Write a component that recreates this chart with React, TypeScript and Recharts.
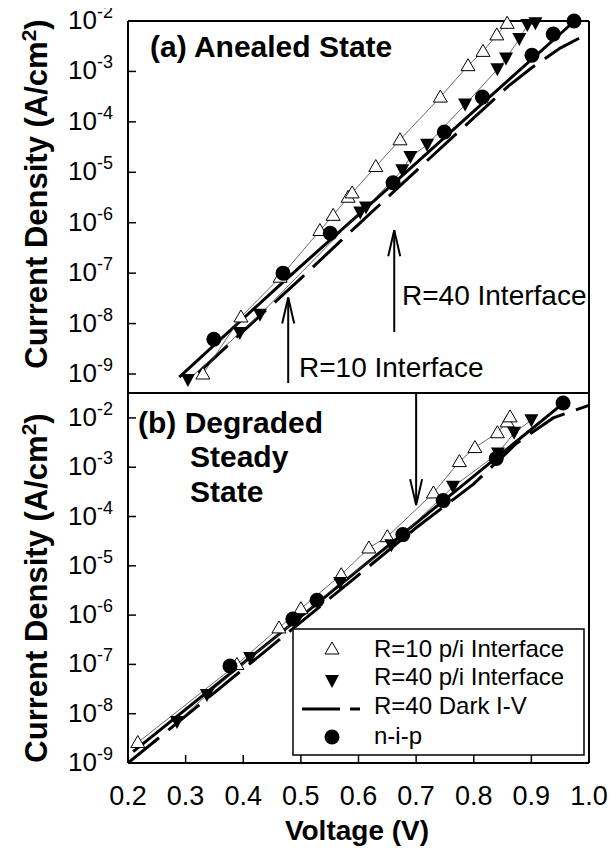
import React from 'react';
import { LineChart, Line, XAxis, YAxis, ReferenceLine } from 'recharts';

const FONT = '"Liberation Sans", Arial, Helvetica, sans-serif';

// axes
const voltTicks = [0.2, 0.3, 0.4, 0.5, 0.6, 0.7, 0.8, 0.9, 1.0];
const decadeTicks = [1e-9, 1e-8, 1e-7, 1e-6, 1e-5, 1e-4, 1e-3, 1e-2];

// (a) annealed state
const aR10Volt = [0.33, 0.396, 0.464, 0.533, 0.556, 0.582, 0.589, 0.63, 0.672, 0.742, 0.79, 0.816, 0.84, 0.858];
const aR10J = [1.0e-9, 1.35e-8, 8.3e-8, 7e-7, 1.4e-6, 3.2e-6, 3.9e-6, 1.3e-5, 4.4e-5, 3.1e-4, 1.3e-3, 2.5e-3, 5.3e-3, 9e-3];
const aR40Volt = [0.304, 0.394, 0.429, 0.603, 0.613, 0.676, 0.69, 0.719, 0.785, 0.841, 0.856, 0.879, 0.893, 0.907];
const aR40J = [7.6e-10, 6.5e-9, 1.5e-8, 1.6e-6, 2e-6, 1.1e-5, 2e-5, 3.5e-5, 2.2e-4, 1.1e-3, 1.8e-3, 4.4e-3, 8.3e-3, 9e-3];
const aNipVolt = [0.349, 0.469, 0.551, 0.66, 0.749, 0.815, 0.901, 0.938, 0.974];
const aNipJ = [4.9e-9, 1e-7, 6.2e-7, 6.2e-6, 6.3e-5, 3.1e-4, 2.1e-3, 5.5e-3, 1e-2];
const aFitVolt = [0.289, 0.47, 0.66, 0.82, 0.975];
const aFitJ = [8.7e-10, 6.8e-8, 5.9e-6, 2.6e-4, 1e-2];
const aDarkVolt = [0.322, 0.4, 0.5, 0.6, 0.7, 0.8, 0.86, 0.9, 0.95, 1.0];
const aDarkJ = [1.05e-9, 7.1e-9, 7.9e-8, 9.3e-7, 1.07e-5, 1.2e-4, 5.1e-4, 1.17e-3, 2.9e-3, 5.75e-3];

// (b) degraded steady state
const bR10Volt = [0.217, 0.389, 0.462, 0.5, 0.57, 0.618, 0.65, 0.73, 0.775, 0.802, 0.841, 0.858, 0.863];
const bR10J = [2.6e-9, 1.0e-7, 5.5e-7, 1.35e-6, 6.6e-6, 2.3e-5, 3.9e-5, 3e-4, 1.3e-3, 2.5e-3, 5e-3, 8.3e-3, 1.05e-2];
const bR40Volt = [0.285, 0.337, 0.412, 0.493, 0.568, 0.657, 0.764, 0.842, 0.87, 0.9];
const bR40J = [6.8e-9, 2.4e-8, 1.35e-7, 8e-7, 4.5e-6, 2.6e-5, 4e-4, 1.9e-3, 5e-3, 9e-3];
const bNipVolt = [0.377, 0.486, 0.528, 0.677, 0.747, 0.839, 0.955];
const bNipJ = [9.3e-8, 8.3e-7, 2e-6, 4.3e-5, 2.1e-4, 1.5e-3, 2e-2];
const bFitVolt = [0.209, 0.5, 0.75, 0.962];
const bFitJ = [1.7e-9, 9.3e-7, 2.2e-4, 2.3e-2];
const bDarkVolt = [0.2, 0.5, 0.7, 0.8, 0.875, 0.938, 1.0];
const bDarkJ = [1e-9, 7.2e-7, 5.9e-5, 4.6e-4, 3.1e-3, 1e-2, 1.8e-2];

const legendLabels = ['R=10 p/i Interface', 'R=40 p/i Interface', 'R=40 Dark I-V', 'n-i-p'];

const zip = (v: number[], j: number[]) => v.map((x, i) => ({ v: x, j: j[i] }));

const OpenTri = (p: any) => {
  const { cx, cy } = p;
  if (cx == null || cy == null) return null;
  return <path key={p.key} d={`M${cx},${cy - 7}L${cx + 7},${cy + 5}L${cx - 7},${cy + 5}Z`} fill="#fff" stroke="#000" strokeWidth={1} />;
};
const DownTri = (p: any) => {
  const { cx, cy } = p;
  if (cx == null || cy == null) return null;
  return <path key={p.key} d={`M${cx - 7},${cy - 6}L${cx + 7},${cy - 6}L${cx},${cy + 7}Z`} fill="#000" />;
};
const Dot = (p: any) => {
  const { cx, cy } = p;
  if (cx == null || cy == null) return null;
  return <circle key={p.key} cx={cx} cy={cy} r={7.5} fill="#000" />;
};

const arrow = (up: boolean) => (p: any) => {
  const { x1, y1, x2, y2 } = p;
  const tipY = up ? Math.min(y1, y2) : Math.max(y1, y2);
  const d = up ? 26 : -26;
  return (
    <g>
      <line x1={x1} y1={y1} x2={x2} y2={y2} stroke="#000" strokeWidth={2} />
      <polyline points={`${x2 - 6},${tipY + d} ${x2},${tipY} ${x2 + 6},${tipY + d}`} fill="none" stroke="#000" strokeWidth={2} />
    </g>
  );
};

const YTick = (p: any) => {
  const { x, y, payload } = p;
  const e = Math.round(Math.log10(payload.value));
  return (
    <text x={x} y={y} dy={8} textAnchor="end" fontFamily={FONT} fontSize={26} fill="#000">
      10<tspan dy={-11} fontSize={18}>{e}</tspan>
    </text>
  );
};

const XTick = (p: any) => {
  const { x, y, payload } = p;
  return (
    <text x={x} y={y} dy={19} textAnchor="middle" fontFamily={FONT} fontSize={27} fill="#000">
      {payload.value.toFixed(1)}
    </text>
  );
};

const axisLine = { stroke: '#000', strokeWidth: 2 };
const tickLine = { stroke: '#000', strokeWidth: 1.5 };

const series = (r10: any[], r40: any[], nip: any[], fit: any[], dark: any[]) => [
  <Line key="dark" data={dark} dataKey="j" stroke="#000" strokeWidth={3} strokeDasharray="40 12" dot={false} isAnimationActive={false} />,
  <Line key="fit" data={fit} dataKey="j" stroke="#000" strokeWidth={3} dot={false} isAnimationActive={false} />,
  <Line key="r10" data={r10} dataKey="j" stroke="#444" strokeWidth={0.8} dot={OpenTri} isAnimationActive={false} />,
  <Line key="r40" data={r40} dataKey="j" stroke="#444" strokeWidth={0.8} dot={DownTri} isAnimationActive={false} />,
  <Line key="nip" data={nip} dataKey="j" stroke="none" dot={Dot} isAnimationActive={false} />,
];

const boldText = { fontFamily: FONT, fontWeight: 700, fontSize: 30, fill: '#000' } as const;
const plainText = { fontFamily: FONT, fontSize: 28, fill: '#000' } as const;

export default function App() {
  return (
    <div style={{ position: 'relative', width: 616, height: 848, margin: '-8px 0 0 -8px', background: '#fff' }}>
      <div style={{ position: 'absolute', left: 0, top: 0 }}>
        <LineChart width={616} height={393} margin={{ top: 20, right: 26, bottom: 0, left: 0 }}>
          <XAxis dataKey="v" type="number" domain={[0.2, 1]} ticks={voltTicks} hide />
          <XAxis xAxisId="top" orientation="top" type="number" domain={[0.2, 1]} ticks={voltTicks} height={1}
            tick={false} tickSize={-8} tickLine={tickLine} axisLine={axisLine} />
          <YAxis type="number" scale="log" domain={[4.2e-10, 1e-2]} ticks={decadeTicks} width={128}
            tick={<YTick />} tickSize={-8} tickMargin={23} tickLine={tickLine} axisLine={axisLine} />
          <YAxis yAxisId="right" orientation="right" type="number" domain={[0, 1]} width={1}
            tick={false} tickLine={false} axisLine={axisLine} />
          {series(zip(aR10Volt, aR10J), zip(aR40Volt, aR40J), zip(aNipVolt, aNipJ), zip(aFitVolt, aFitJ), zip(aDarkVolt, aDarkJ))}
          <ReferenceLine segment={[{ x: 0.478, y: 6.6e-10 }, { x: 0.478, y: 3.3e-8 }]} ifOverflow="visible" shape={arrow(true)} />
          <ReferenceLine segment={[{ x: 0.662, y: 6.8e-9 }, { x: 0.662, y: 7.1e-7 }]} ifOverflow="visible" shape={arrow(true)} />
        </LineChart>
      </div>
      <div style={{ position: 'absolute', left: 0, top: 392 }}>
        <LineChart width={616} height={456} margin={{ top: 0, right: 26, bottom: 0, left: 0 }}>
          <XAxis dataKey="v" type="number" domain={[0.2, 1]} ticks={voltTicks} height={85}
            tick={<XTick />} tickSize={-8} tickMargin={31} tickLine={tickLine} axisLine={axisLine} />
          <XAxis xAxisId="top" orientation="top" type="number" domain={[0.2, 1]} ticks={voltTicks} height={1}
            tick={false} tickSize={-8} tickLine={tickLine} axisLine={axisLine} />
          <YAxis type="number" scale="log" domain={[1e-9, 3.2e-2]} ticks={decadeTicks} width={128}
            tick={<YTick />} tickSize={-8} tickMargin={23} tickLine={tickLine} axisLine={axisLine} />
          <YAxis yAxisId="right" orientation="right" type="number" domain={[0, 1]} width={1}
            tick={false} tickLine={false} axisLine={axisLine} />
          {series(zip(bR10Volt, bR10J), zip(bR40Volt, bR40J), zip(bNipVolt, bNipJ), zip(bFitVolt, bFitJ), zip(bDarkVolt, bDarkJ))}
          <ReferenceLine segment={[{ x: 0.7, y: 3.2e-2 }, { x: 0.7, y: 1.7e-4 }]} ifOverflow="visible" shape={arrow(false)} />
        </LineChart>
      </div>
      <svg width={616} height={848} style={{ position: 'absolute', left: 0, top: 0, pointerEvents: 'none' }}>
        <text transform="translate(47,194) rotate(-90)" textAnchor="middle" {...boldText} fontSize={31}>
          Current Density (A/cm<tspan dy={-11} fontSize={21}>2</tspan><tspan dy={11}>)</tspan>
        </text>
        <text transform="translate(47,588) rotate(-90)" textAnchor="middle" {...boldText} fontSize={31}>
          Current Density (A/cm<tspan dy={-11} fontSize={21}>2</tspan><tspan dy={11}>)</tspan>
        </text>
        <text x={150} y={57} {...boldText}>(a) Anealed State</text>
        <text x={402} y={305} {...plainText}>R=40 Interface</text>
        <text x={299} y={377} {...plainText}>R=10 Interface</text>
        <text x={138} y={433} {...boldText}>(b) Degraded</text>
        <text x={190} y={467} {...boldText}>Steady</text>
        <text x={190} y={502} {...boldText}>State</text>
        <text x={357} y={840} textAnchor="middle" {...boldText} fontSize={28}>Voltage (V)</text>
        <rect x={293} y={629} width={291} height={126} fill="#fff" stroke="#000" strokeWidth={1.5} />
        <OpenTri cx={332} cy={649} />
        <DownTri cx={332} cy={681} />
        <line x1={302} y1={709} x2={360} y2={709} stroke="#000" strokeWidth={3} strokeDasharray="38 10" />
        <Dot cx={332} cy={737} />
        {legendLabels.map((t, i) => (
          <text key={t} x={374} y={[657, 685, 714, 744][i]} fontFamily={FONT} fontSize={24} fill="#000">{t}</text>
        ))}
      </svg>
    </div>
  );
}
